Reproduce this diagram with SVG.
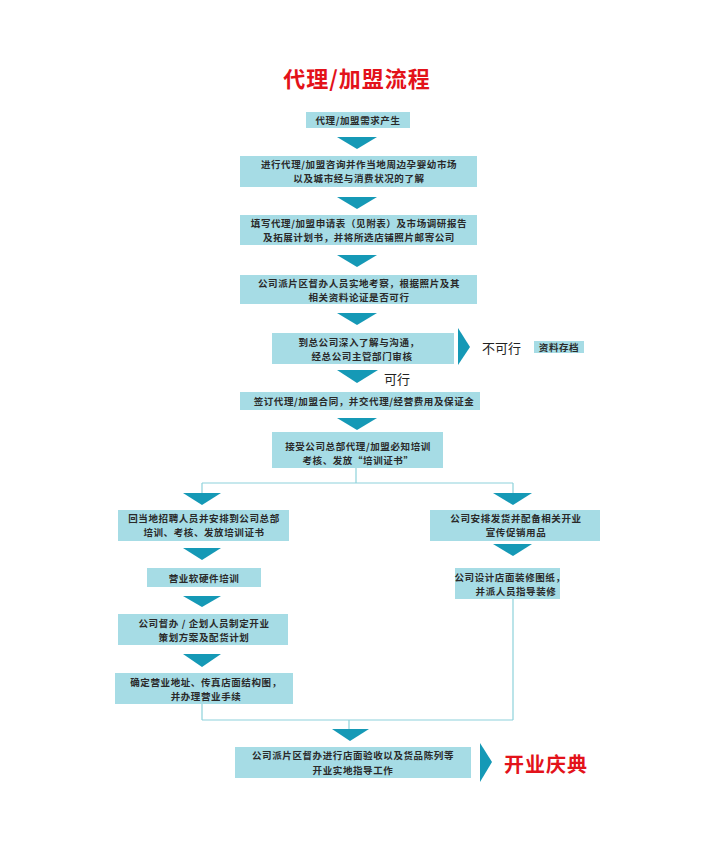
<svg xmlns="http://www.w3.org/2000/svg" width="720" height="850" viewBox="0 0 720 850">
<style>
.box{fill:#a6dce5;}
.arr{fill:#1599b6;}
.ln{stroke:#8ed2db;stroke-width:1.2;fill:none;}
.t{font-family:"Noto Sans CJK SC","Noto Sans",sans-serif;font-size:9.5px;font-weight:bold;fill:#2a2a2a;text-anchor:middle;dominant-baseline:central;letter-spacing:0.6px;}
.red{font-family:"Noto Sans CJK SC","Noto Sans",sans-serif;font-weight:bold;fill:#e3121a;text-anchor:middle;dominant-baseline:central;}
.plain{font-family:"Noto Sans CJK SC","Noto Sans",sans-serif;font-size:13px;fill:#222;dominant-baseline:central;}
</style>
<rect width="720" height="850" fill="#ffffff"/>
<text class="red" x="357" y="77" font-size="22" letter-spacing="1">代理/加盟流程</text>

<g id="connectors">
<polygon class="arr" points="337,137 377,137 357,149"/>
<polygon class="arr" points="337,197 377,197 357,209"/>
<polygon class="arr" points="337,255 377,255 357,267"/>
<polygon class="arr" points="337,313 377,313 357,325"/>
<polygon class="arr" points="337,370 378,370 357,383"/>
<polygon class="arr" points="337,418 377,418 357,430"/>
<polygon class="arr" points="458,328 470,347 458,365"/>
<path class="ln" d="M356,468 V483 M202,483 H513 M202,483 V493 M513,483 V493"/>
<polygon class="arr" points="183,493 221,493 202,505"/>
<polygon class="arr" points="493,493 532,493 513,505"/>
<polygon class="arr" points="183,548 221,548 202,560"/>
<polygon class="arr" points="493,544 532,544 513,556"/>
<polygon class="arr" points="183,596 221,596 202,607"/>
<polygon class="arr" points="183,654 221,654 202,667"/>
<path class="ln" d="M202,704 V720 M513,599 V720 M202,720 H513 M349,720 V729"/>
<polygon class="arr" points="332,729 369,729 350,741"/>
<polygon class="arr" points="480,743 492,762 480,782"/>
</g>

<g id="n1"><rect class="box" x="306" y="112" width="104" height="16"/><text class="t" x="358" y="120">代理/加盟需求产生</text></g>
<g id="n2"><rect class="box" x="240" y="156" width="237" height="31"/><text class="t" x="359" y="164">进行代理/加盟咨询并作当地周边孕婴幼市场</text><text class="t" x="359" y="178">以及城市经与消费状况的了解</text></g>
<g id="n3"><rect class="box" x="240" y="215" width="237" height="30"/><text class="t" x="359" y="223">填写代理/加盟申请表（见附表）及市场调研报告</text><text class="t" x="359" y="237">及拓展计划书，并将所选店铺照片邮寄公司</text></g>
<g id="n4"><rect class="box" x="240" y="275" width="237" height="29"/><text class="t" x="359" y="283">公司派片区督办人员实地考察，根据照片及其</text><text class="t" x="359" y="297">相关资料论证是否可行</text></g>
<g id="n5"><rect class="box" x="272" y="333" width="182" height="31"/><text class="t" x="359" y="342">到总公司深入了解与沟通，</text><text class="t" x="362" y="356">经总公司主管部门审核</text></g>
<g id="n5b"><text class="plain" x="482" y="347">不可行</text></g>
<g id="n5c"><rect class="box" x="534" y="341" width="50" height="12"/><text class="t" x="559" y="347" font-size="9" letter-spacing="0.3">资料存档</text></g>
<g id="n5d"><text class="plain" x="384" y="378">可行</text></g>
<g id="n6"><rect class="box" x="240" y="392" width="240" height="18"/><text class="t" x="364" y="401">签订代理/加盟合同，并交代理/经营费用及保证金</text></g>
<g id="n7"><rect class="box" x="272" y="432" width="171" height="36"/><text class="t" x="358" y="446">接受公司总部代理/加盟必知培训</text><text class="t" x="358" y="460">考核、发放“培训证书”</text></g>
<g id="n8"><rect class="box" x="118" y="510" width="171" height="31"/><text class="t" x="204" y="518">回当地招聘人员并安排到公司总部</text><text class="t" x="204" y="532">培训、考核、发放培训证书</text></g>
<g id="n9"><rect class="box" x="430" y="510" width="170" height="31"/><text class="t" x="516" y="518">公司安排发货并配备相关开业</text><text class="t" x="516" y="532">宣传促销用品</text></g>
<g id="n10"><rect class="box" x="147" y="568" width="114" height="19"/><text class="t" x="204" y="578">营业软硬件培训</text></g>
<g id="n11"><rect class="box" x="118" y="614" width="170" height="31"/><text class="t" x="204" y="623">公司督办 / 企划人员制定开业</text><text class="t" x="204" y="637">策划方案及配货计划</text></g>
<g id="n12"><rect class="box" x="115" y="673" width="178" height="31"/><text class="t" x="206" y="682">确定营业地址、传真店面结构图，</text><text class="t" x="206" y="696">并办理营业手续</text></g>
<g id="n13"><rect class="box" x="455" y="568" width="105" height="31"/><text class="t" x="510" y="577">公司设计店面装修图纸，</text><text class="t" x="516" y="591">并派人员指导装修</text></g>
<g id="n14"><rect class="box" x="235" y="747" width="236" height="31"/><text class="t" x="353" y="755">公司派片区督办进行店面验收以及货品陈列等</text><text class="t" x="353" y="770">开业实地指导工作</text></g>
<g id="n15"><text class="red" x="546" y="763" font-size="20" letter-spacing="1">开业庆典</text></g>
</svg>
